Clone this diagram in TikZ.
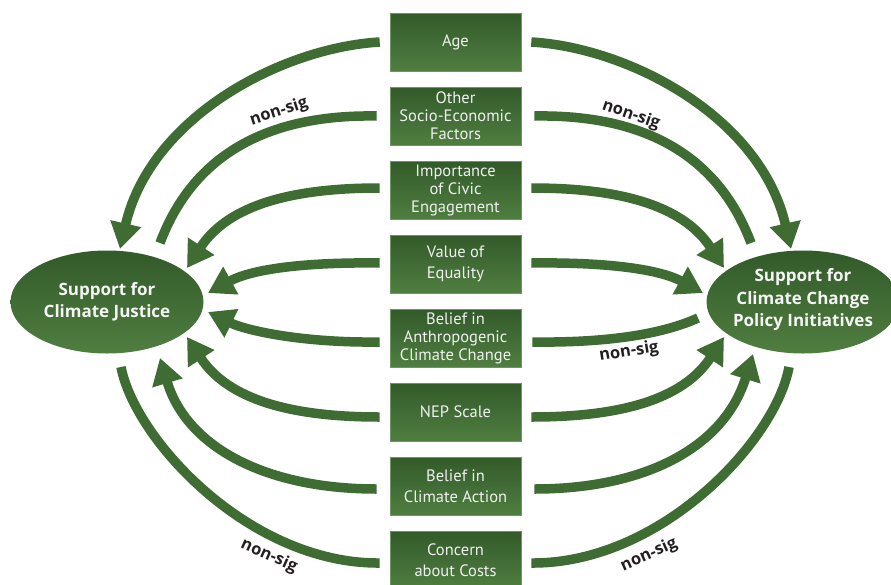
\documentclass[tikz,border=0pt]{standalone}
\usepackage{fontspec}
\setmainfont{PT Sans}
\newfontfamily\boldfam{Open Sans}
\usetikzlibrary{shapes.geometric,arrows.meta,calc}
\definecolor{gtop}{RGB}{50,90,42}
\definecolor{gbot}{RGB}{80,126,64}
\definecolor{gedge}{RGB}{110,150,96}
\definecolor{garrow}{RGB}{62,108,50}
\definecolor{labcol}{RGB}{35,31,32}
\begin{document}
\begin{tikzpicture}[x=1pt,y=-1pt,
  boxnode/.style={rectangle, minimum width=131pt, minimum height=58pt, inner sep=0pt,
    top color=gtop, bottom color=gbot, draw=gedge, line width=0.6pt, text=white!94!black,
    align=center, font=\fontsize{16.5}{18}\selectfont},
  ell/.style={ellipse, minimum width=193pt, minimum height=103pt, inner sep=0pt,
    top color=gtop, bottom color=gbot},
  etext/.style={text=white!96!black, align=center, font=\boldfam\bfseries\fontsize{17}{22.5}\selectfont},
  arr/.style={draw=garrow, line width=9.5pt, -{Triangle[width=30pt,length=26pt]}},
  ns/.style={draw=garrow, line width=9.5pt},
  lab/.style={font=\boldfam\bfseries\fontsize{16.5}{20}\selectfont, text=labcol, inner sep=0pt}
]
\useasboundingbox (0,0) rectangle (891,584);

\node[boxnode] (age) at (455.5,42) {Age};
\node[boxnode] (ses) at (455.5,116) {Other\\Socio-Economic\\Factors};
\node[boxnode] (civ) at (455.5,190) {Importance\\of Civic\\Engagement};
\node[boxnode] (eq) at (455.5,264) {Value of\\[2.5pt]Equality};
\node[boxnode] (ant) at (455.5,338) {Belief in\\Anthropogenic\\Climate Change};
\node[boxnode] (nep) at (455.5,412) {NEP Scale};
\node[boxnode] (act) at (455.5,486) {Belief in\\[2.5pt]Climate Action};
\node[boxnode] (cost) at (455.5,560) {Concern\\[2.5pt]about Costs};

\node[ell] (cj) at (107,302) {};
\node[etext] (cjt) at (107,302) {Support for\\Climate Justice};
\node[ell] (ccp) at (803,302) {};
\node[etext] (ccpt) at (803,300) {Support for\\Climate Change\\Policy Initiatives};

% left side
\draw[arr] ([xshift=-10]age.west) .. controls (280,48) and (150,118) .. ([shift={(13,-53)}]cj.center);
\draw[ns] ([xshift=-13]ses.west) .. controls (257,114) and (190,163) .. ([shift={(53,-59)}]cj.center);
\draw[arr] ([shift={(-10,-2)}]civ.west) .. controls (280,188) and (225,210) .. ([shift={(80,-34)}]cj.center);
\draw[arr] ([shift={(-10,-1)}]eq.west) .. controls (300,262) and (250,270) .. ([shift={(101,-9)}]cj.center);
\draw[arr] ([shift={(-10,4)}]ant.west) .. controls (300,343) and (245,330) .. ([shift={(101,10)}]cj.center);
\draw[arr] ([shift={(-10,5)}]nep.west) .. controls (280,417) and (225,395) .. ([shift={(80,35)}]cj.center);
\draw[arr] ([shift={(-13,3)}]act.west) .. controls (267,489) and (187,448) .. ([shift={(53,56)}]cj.center);
\draw[ns] ([shift={(-10,3)}]cost.west) .. controls (250,564) and (135,440) .. ([shift={(14,65)}]cj.center);

% right side
\draw[arr] ([xshift=10]age.east) .. controls (631,48) and (761,118) .. ([shift={(-12,-53)}]ccp.center);
\draw[ns] ([xshift=13]ses.east) .. controls (654,114) and (721,163) .. ([shift={(-52,-59)}]ccp.center);
\draw[arr] ([shift={(10,-2)}]civ.east) .. controls (631,188) and (686,210) .. ([shift={(-79,-34)}]ccp.center);
\draw[arr] ([shift={(10,-1)}]eq.east) .. controls (611,262) and (661,270) .. ([shift={(-100,-9)}]ccp.center);
\draw[ns] ([shift={(11,4)}]ant.east) .. controls (612,343) and (665,333) .. ([shift={(-105,16)}]ccp.center);
\draw[arr] ([shift={(10,5)}]nep.east) .. controls (631,417) and (686,395) .. ([shift={(-79,35)}]ccp.center);
\draw[arr] ([shift={(13,3)}]act.east) .. controls (644,489) and (724,448) .. ([shift={(-50,52)}]ccp.center);
\draw[ns] ([shift={(10,3)}]cost.east) .. controls (661,564) and (776,440) .. ([shift={(-14,65)}]ccp.center);

\node[lab, rotate=18] (n1) at (279,112) {non-sig};
\node[lab, rotate=-19] (n2) at (631,115) {non-sig};
\node[lab, rotate=9] (n3) at (629,352) {non-sig};
\node[lab, rotate=-24] (n4) at (269,556) {non-sig};
\node[lab, rotate=24] (n5) at (649,555) {non-sig};
\end{tikzpicture}
\end{document}
